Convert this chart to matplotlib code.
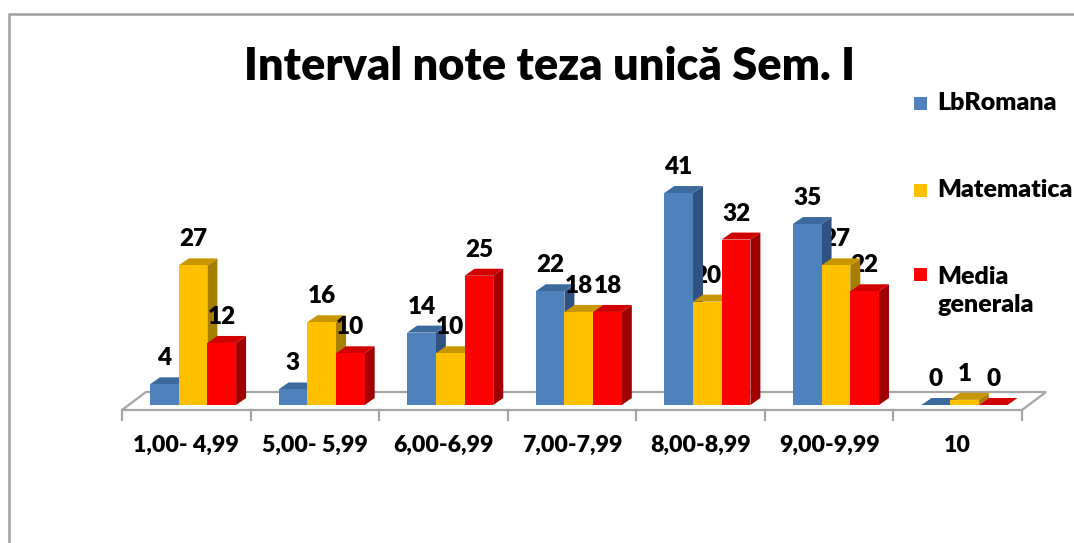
import matplotlib.pyplot as plt
from matplotlib.patches import Polygon, Rectangle

plt.rcParams['font.family'] = ['Lato', 'DejaVu Sans']
plt.rcParams['font.weight'] = 'bold'

categories = ['1,00- 4,99', '5,00- 5,99', '6,00-6,99', '7,00-7,99',
              '8,00-8,99', '9,00-9,99', '10']
series = ['LbRomana', 'Matematica', 'Media\ngenerala']
lb_romana = [4, 3, 14, 22, 41, 35, 0]
matematica = [27, 16, 10, 18, 20, 27, 1]
media_generala = [12, 10, 25, 18, 32, 22, 0]
values = [lb_romana, matematica, media_generala]

front = ['#4F81BD', '#FFC000', '#FF0000']
top = ['#3C6A9E', '#C89600', '#D00000']
side = ['#2F5282', '#A87E00', '#A00000']

W, H = 1074, 543
fig = plt.figure(figsize=(W / 100, H / 100), dpi=100)
ax = fig.add_axes([0, 0, 1, 1])
ax.axis('off')

# pixel mapping: x=0 at px 122, 128.57 px per category; y=0 at px 405 (from top), 5.17 px per unit
sx, sy = 900 / 7, 5.17
ax.set_xlim(-122 / sx, (W - 122) / sx)
ax.set_ylim(-(H - 405) / sy, 405 / sy)

# floor
fy0, fy1, fdx = -5 / sy, 13 / sy, 24 / sx
n = len(categories)
ax.add_patch(Polygon([(0, fy0), (n, fy0), (n + fdx, fy1), (fdx, fy1)],
                     closed=True, facecolor='white', edgecolor='#A6A6A6', lw=1.6, zorder=1))
for i in range(n + 1):
    ax.plot([i, i], [fy0, fy0 - 10 / sy], color='#A6A6A6', lw=1.6, zorder=1)

# bars
off, bw = 28 / sx, 28.7 / sx
dx, dy = 10 / sx, 7 / sy
z = 2
for i in range(n):
    for j in range(3):
        v = values[j][i]
        x0 = i + off + j * bw
        ax.add_patch(Polygon([(x0 + bw, 0), (x0 + bw + dx, dy), (x0 + bw + dx, v + dy), (x0 + bw, v)],
                             closed=True, facecolor=side[j], edgecolor='none', zorder=z))
        ax.add_patch(Polygon([(x0, v), (x0 + bw, v), (x0 + bw + dx, v + dy), (x0 + dx, v + dy)],
                             closed=True, facecolor=top[j], edgecolor='none', zorder=z))
        ax.bar(x0, v, bw, align='edge', color=front[j], edgecolor='none', zorder=z + 1)
        ax.text(x0 + bw / 2, v + 26 / sy, str(v), ha='center', va='center',
                fontsize=17.5, fontweight='heavy', zorder=20)
        z += 2

for i, c in enumerate(categories):
    ax.text(i + 0.5, -40 / sy, c, ha='center', va='center', fontsize=16.7, fontweight='heavy')

# title
fig.text(550 / W, 1 - 67 / H, 'Interval note teza unică Sem. I', ha='center', va='center',
         fontsize=32.5, fontweight='heavy')

# legend
leg_y = [103, 190, 291]
for j, name in enumerate(series):
    yy = leg_y[j] if j < 2 else 274
    fig.patches.append(Rectangle((914 / W, 1 - (yy + 7) / H), 13 / W, 13 / H,
                                 transform=fig.transFigure, facecolor=front[j], edgecolor='none'))
    fig.text(937 / W, 1 - leg_y[j] / H, name, ha='left', va='center', fontsize=18,
             fontweight='heavy', linespacing=1.36)

# chart border
fig.patches.append(Rectangle((9 / W, -0.1), 1.2, 1.1 - 14 / H, transform=fig.transFigure,
                             fill=False, edgecolor='#A0A0A0', lw=1.8))

fig.savefig('out.png', dpi=100)
